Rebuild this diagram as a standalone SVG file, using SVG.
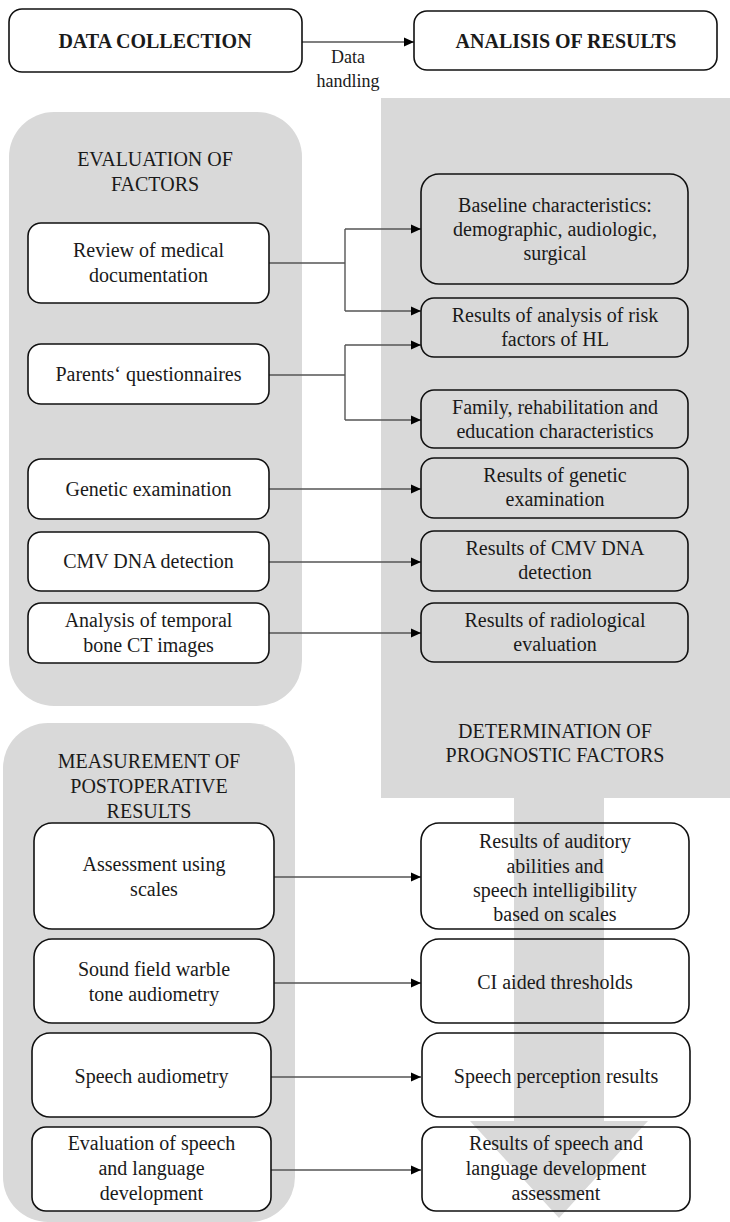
<svg xmlns="http://www.w3.org/2000/svg" width="730" height="1222" viewBox="0 0 730 1222" font-family="'Liberation Serif', 'Times New Roman', Tinos, 'DejaVu Serif', serif">
<style>
text{font-family:'Liberation Serif','Times New Roman',Tinos,'DejaVu Serif',serif;fill:#1a1a1a;text-anchor:middle;font-size:20px}
.hd{font-weight:bold}
.sm{font-size:18px}
.bg{fill:#d9d9d9;stroke:none}
.lb{fill:#ffffff;stroke:#111;stroke-width:1.6}
.rb{fill:none;stroke:#111;stroke-width:1.6}
.cn{fill:none;stroke:#555;stroke-width:1.4}
</style>
<defs>
<marker id="ah" markerUnits="userSpaceOnUse" markerWidth="11" markerHeight="10" refX="10" refY="5" orient="auto">
<path d="M0,0.5 L10,5 L0,9.5 Z" fill="#000"/>
</marker>
</defs>

<g id="backgrounds">
<path class="bg" d="M381,98 H730 V798 H604 V1121 H648 L559,1218 L470,1121 H514 V798 H381 Z"/>
<rect class="bg" x="9" y="112" width="293" height="594" rx="45"/>
<rect class="bg" x="3" y="723" width="292" height="499" rx="45"/>
<text x="155" y="166">EVALUATION OF</text>
<text x="155" y="191">FACTORS</text>
<text x="555" y="738">DETERMINATION OF</text>
<text x="555" y="762">PROGNOSTIC FACTORS</text>
<text x="149" y="768">MEASUREMENT OF</text>
<text x="149" y="793">POSTOPERATIVE</text>
<text x="149" y="818">RESULTS</text>
</g>

<g id="connectors">
<line class="cn" x1="302" y1="42" x2="414" y2="42" marker-end="url(#ah)"/>
<text class="sm" x="348" y="63">Data</text>
<text class="sm" x="348" y="87">handling</text>
<polyline class="cn" points="269,263 345,263"/>
<polyline class="cn" points="345,229 345,311"/>
<line class="cn" x1="345" y1="229" x2="421" y2="229" marker-end="url(#ah)"/>
<line class="cn" x1="345" y1="311" x2="421" y2="311" marker-end="url(#ah)"/>
<polyline class="cn" points="269,375 345,375"/>
<polyline class="cn" points="345,345 345,420"/>
<line class="cn" x1="345" y1="345" x2="421" y2="345" marker-end="url(#ah)"/>
<line class="cn" x1="345" y1="420" x2="421" y2="420" marker-end="url(#ah)"/>
<line class="cn" x1="269" y1="489" x2="421" y2="489" marker-end="url(#ah)"/>
<line class="cn" x1="269" y1="562" x2="421" y2="562" marker-end="url(#ah)"/>
<line class="cn" x1="269" y1="633" x2="421" y2="633" marker-end="url(#ah)"/>
<line class="cn" x1="274" y1="877" x2="421" y2="877" marker-end="url(#ah)"/>
<line class="cn" x1="274" y1="983" x2="421" y2="983" marker-end="url(#ah)"/>
<line class="cn" x1="271" y1="1077" x2="421" y2="1077" marker-end="url(#ah)"/>
<line class="cn" x1="271" y1="1170" x2="421" y2="1170" marker-end="url(#ah)"/>
</g>

<g id="data-collection">
<rect class="lb" x="9" y="9" width="293" height="63" rx="13"/>
<text class="hd" x="155" y="48">DATA COLLECTION</text>
</g>
<g id="analisis-of-results">
<rect class="lb" x="414" y="11" width="303" height="59" rx="13"/>
<text class="hd" x="566" y="48">ANALISIS OF RESULTS</text>
</g>

<g id="review">
<rect class="lb" x="28" y="223" width="241" height="80" rx="13"/>
<text x="148.5" y="257">Review of medical</text>
<text x="148.5" y="282">documentation</text>
</g>
<g id="parents">
<rect class="lb" x="28" y="344" width="241" height="60" rx="13"/>
<text x="148.5" y="381">Parents‘ questionnaires</text>
</g>
<g id="genetic">
<rect class="lb" x="28" y="459" width="241" height="60" rx="13"/>
<text x="148.5" y="496">Genetic examination</text>
</g>
<g id="cmv">
<rect class="lb" x="28" y="532" width="241" height="59" rx="13"/>
<text x="148.5" y="568">CMV DNA detection</text>
</g>
<g id="ct">
<rect class="lb" x="28" y="603" width="241" height="60" rx="13"/>
<text x="148.5" y="627">Analysis of temporal</text>
<text x="148.5" y="652">bone CT images</text>
</g>

<g id="baseline">
<rect class="rb" x="421" y="174" width="267" height="110" rx="18"/>
<text x="555" y="212">Baseline characteristics:</text>
<text x="555" y="236">demographic, audiologic,</text>
<text x="555" y="260">surgical</text>
</g>
<g id="risk">
<rect class="rb" x="421" y="298" width="267" height="59" rx="13"/>
<text x="555" y="322">Results of analysis of risk</text>
<text x="555" y="346">factors of HL</text>
</g>
<g id="family">
<rect class="rb" x="421" y="390" width="267" height="58" rx="13"/>
<text x="555" y="414">Family, rehabilitation and</text>
<text x="555" y="438">education characteristics</text>
</g>
<g id="res-genetic">
<rect class="rb" x="421" y="458" width="267" height="60" rx="13"/>
<text x="555" y="482">Results of genetic</text>
<text x="555" y="506">examination</text>
</g>
<g id="res-cmv">
<rect class="rb" x="421" y="531" width="267" height="60" rx="13"/>
<text x="555" y="555">Results of CMV DNA</text>
<text x="555" y="579">detection</text>
</g>
<g id="res-radio">
<rect class="rb" x="421" y="603" width="267" height="59" rx="13"/>
<text x="555" y="627">Results of radiological</text>
<text x="555" y="651">evaluation</text>
</g>

<g id="scales">
<rect class="lb" x="34" y="823" width="240" height="106" rx="18"/>
<text x="154" y="871">Assessment using</text>
<text x="154" y="896">scales</text>
</g>
<g id="sound-field">
<rect class="lb" x="34" y="939" width="240" height="84" rx="18"/>
<text x="154" y="976">Sound field warble</text>
<text x="154" y="1001">tone audiometry</text>
</g>
<g id="speech-audiometry">
<rect class="lb" x="32" y="1033" width="239" height="84" rx="18"/>
<text x="151.5" y="1083">Speech audiometry</text>
</g>
<g id="speech-language">
<rect class="lb" x="32" y="1127" width="239" height="84" rx="14"/>
<text x="151.5" y="1150">Evaluation of speech</text>
<text x="151.5" y="1175">and language</text>
<text x="151.5" y="1200">development</text>
</g>

<g id="res-auditory">
<rect class="rb" x="421" y="823" width="268" height="106" rx="18"/>
<text x="555" y="848">Results of auditory</text>
<text x="555" y="873">abilities  and</text>
<text x="555" y="897">speech intelligibility</text>
<text x="555" y="921">based on scales</text>
</g>
<g id="res-thresholds">
<rect class="rb" x="421" y="939" width="268" height="84" rx="18"/>
<text x="555" y="989">CI aided thresholds</text>
</g>
<g id="res-speech-perception">
<rect class="rb" x="422" y="1033" width="268" height="84" rx="18"/>
<text x="556" y="1083">Speech perception results</text>
</g>
<g id="res-speech-language">
<rect class="rb" x="422" y="1127" width="268" height="84" rx="14"/>
<text x="556" y="1150">Results of speech and</text>
<text x="556" y="1175">language development</text>
<text x="556" y="1200">assessment</text>
</g>
</svg>
